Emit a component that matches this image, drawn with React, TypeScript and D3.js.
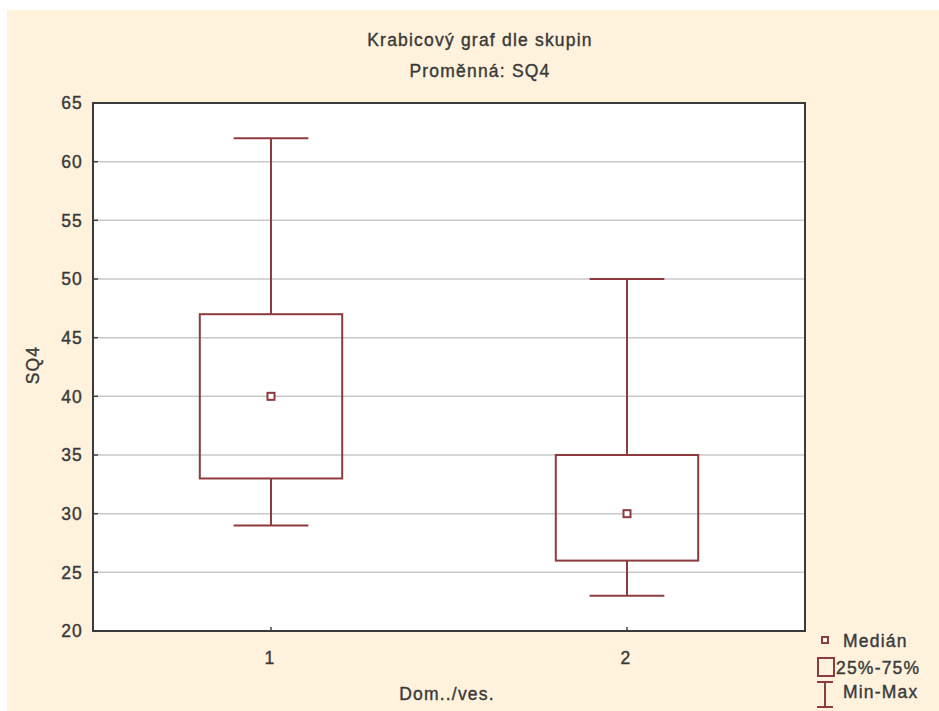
import React from "react";
import * as d3 from "d3";

const categories = ["1", "2"];
const mins = [29, 23];
const q1s = [33, 26];
const medians = [40, 30];
const q3s = [47, 35];
const maxs = [62, 50];
const yTicks = [20, 25, 30, 35, 40, 45, 50, 55, 60, 65];

const W = 939, H = 711;
const plot = { left: 93, right: 805, top: 103, bottom: 631 };
const RED = "#8e3b3f";
const TEXT = "#3a3a3a";
const FONT = "'Liberation Sans', Arial, sans-serif";
const FS = 17.5;
const LS = 1.2;

export default function App() {
  const x = d3.scaleLinear().domain([0.5, 2.5]).range([plot.left, plot.right]);
  const y = d3.scaleLinear().domain([20, 65]).range([plot.bottom, plot.top]);
  const boxHalf = x(1.2) - x(1);
  const capHalf = x(1.105) - x(1);
  const tp = { fontSize: FS, letterSpacing: LS, fill: TEXT, stroke: TEXT, strokeWidth: 0.4 } as any;
  return (
    <svg width={W} height={H} style={{ position: "absolute", left: 0, top: 0 }} fontFamily={FONT}>
      <rect x={7} y={10} width={W - 7} height={H - 10} fill="#fef2dd" />
      <rect x={plot.left} y={plot.top} width={plot.right - plot.left} height={plot.bottom - plot.top} fill="#ffffff" />
      {yTicks.map((t) => (
        <g key={t}>
          {t !== 20 && t !== 65 && (
            <line x1={plot.left} x2={plot.right} y1={y(t)} y2={y(t)} stroke="#c8c8c8" strokeWidth={1.5} />
          )}
          <line x1={plot.left} x2={plot.left + 5} y1={y(t)} y2={y(t)} stroke="#444" strokeWidth={1.5} />
          <text x={83} y={y(t)} dy="0.36em" textAnchor="end" {...tp}>{t}</text>
        </g>
      ))}
      {categories.map((c, i) => {
        const cx = x(i + 1);
        return (
          <g key={c}>
            <line x1={cx} x2={cx} y1={plot.bottom} y2={plot.bottom - 4} stroke="#444" strokeWidth={1.5} />
            <text x={cx - 1} y={664} textAnchor="middle" {...tp}>{c}</text>
            <line x1={cx} x2={cx} y1={y(maxs[i])} y2={y(q3s[i])} stroke={RED} strokeWidth={2} />
            <line x1={cx} x2={cx} y1={y(q1s[i])} y2={y(mins[i])} stroke={RED} strokeWidth={2} />
            <line x1={cx - capHalf} x2={cx + capHalf} y1={y(maxs[i])} y2={y(maxs[i])} stroke={RED} strokeWidth={2} />
            <line x1={cx - capHalf} x2={cx + capHalf} y1={y(mins[i])} y2={y(mins[i])} stroke={RED} strokeWidth={2} />
            <rect x={cx - boxHalf} y={y(q3s[i])} width={2 * boxHalf} height={y(q1s[i]) - y(q3s[i])} fill="none" stroke={RED} strokeWidth={2} />
            <rect x={cx - 3.5} y={y(medians[i]) - 3.5} width={7} height={7} fill="#fff" stroke={RED} strokeWidth={2} />
          </g>
        );
      })}
      <rect x={plot.left} y={plot.top} width={plot.right - plot.left} height={plot.bottom - plot.top} fill="none" stroke="#3a3a3a" strokeWidth={2} />
      <text x={480} y={46} textAnchor="middle" {...tp}>Krabicový graf dle skupin</text>
      <text x={480} y={77} textAnchor="middle" {...tp}>Proměnná: SQ4</text>
      <text transform={`translate(39,${(plot.top + plot.bottom) / 2 - 2}) rotate(-90)`} textAnchor="middle" {...tp}>SQ4</text>
      <text x={447} y={700} textAnchor="middle" {...tp}>Dom../ves.</text>
      {/* legend */}
      <rect x={822} y={637} width={6} height={6} fill="#fff" stroke={RED} strokeWidth={2} />
      <text x={843} y={647} {...tp}>Medián</text>
      <rect x={818} y={658} width={16} height={18} fill="none" stroke={RED} strokeWidth={2} />
      <text x={836} y={674} {...tp}>25%-75%</text>
      <line x1={817} x2={833} y1={682} y2={682} stroke={RED} strokeWidth={2} />
      <line x1={825} x2={825} y1={682} y2={707} stroke={RED} strokeWidth={2} />
      <line x1={817} x2={833} y1={707} y2={707} stroke={RED} strokeWidth={2} />
      <text x={843} y={698} {...tp}>Min-Max</text>
    </svg>
  );
}
